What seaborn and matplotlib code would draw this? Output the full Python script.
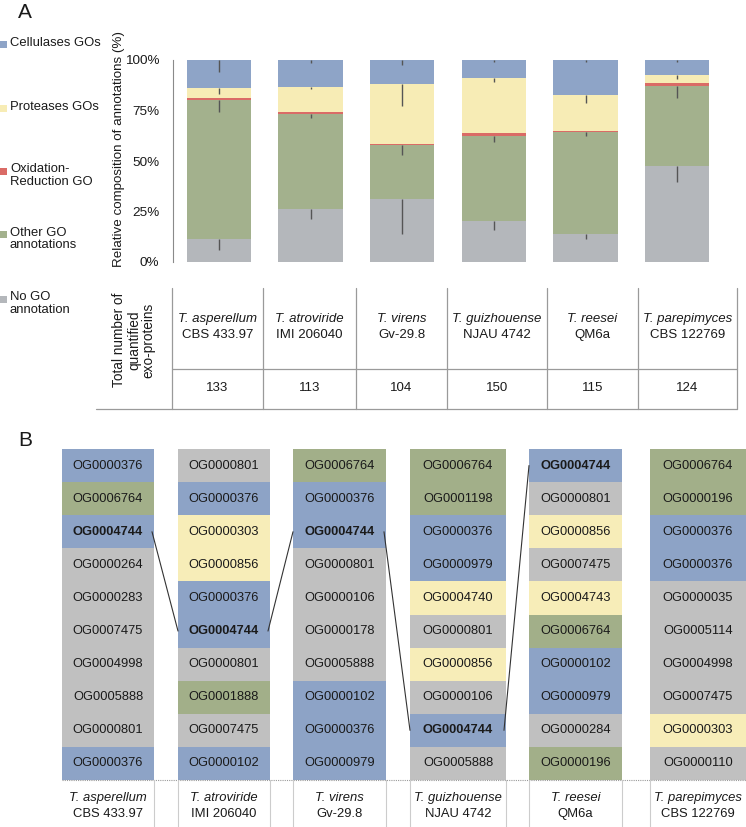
import numpy as np
import pandas as pd
import matplotlib
matplotlib.use("Agg")
import matplotlib.pyplot as plt
from matplotlib.colors import ListedColormap
from matplotlib.patches import Rectangle
import seaborn as sns

sns.set_style("white")
plt.rcParams['font.family'] = ['Liberation Sans', 'DejaVu Sans']

# ---------------- data ----------------
species = ["T. asperellum", "T. atroviride", "T. virens", "T. guizhouense", "T. reesei", "T. parepimyces"]
strains = ["CBS 433.97", "IMI 206040", "Gv-29.8", "NJAU 4742", "QM6a", "CBS 122769"]
totals = [133, 113, 104, 150, 115, 124]

no_go = [11.4, 26.1, 31.0, 20.5, 13.9, 47.5]
other_go = [68.8, 47.0, 26.9, 41.9, 50.5, 39.6]
oxred = [1.1, 1.0, 0.3, 1.6, 0.3, 1.4]
proteases = [4.8, 12.7, 29.8, 26.9, 18.1, 4.1]
cellulases = [13.9, 13.2, 12.0, 9.1, 17.2, 7.4]

err_no_go = [5.5, 5.0, 17.0, 4.6, 2.5, 7.7]
err_other = [6.0, 2.0, 5.0, 3.0, 2.0, 6.0]
err_prot = [3.0, 1.3, 10.7, 2.0, 4.0, 2.0]
err_cell = [5.9, 1.5, 2.5, 1.0, 1.2, 1.0]

legend_labels = ["Cellulases GOs", "Proteases GOs", "Oxidation-\nReduction GO", "Other GO\nannotations", "No GO\nannotation"]

og_labels = [
    ["OG0000376", "OG0006764", "OG0004744", "OG0000264", "OG0000283", "OG0007475", "OG0004998", "OG0005888", "OG0000801", "OG0000376"],
    ["OG0000801", "OG0000376", "OG0000303", "OG0000856", "OG0000376", "OG0004744", "OG0000801", "OG0001888", "OG0007475", "OG0000102"],
    ["OG0006764", "OG0000376", "OG0004744", "OG0000801", "OG0000106", "OG0000178", "OG0005888", "OG0000102", "OG0000376", "OG0000979"],
    ["OG0006764", "OG0001198", "OG0000376", "OG0000979", "OG0004740", "OG0000801", "OG0000856", "OG0000106", "OG0004744", "OG0005888"],
    ["OG0004744", "OG0000801", "OG0000856", "OG0007475", "OG0004743", "OG0006764", "OG0000102", "OG0000979", "OG0000284", "OG0000196"],
    ["OG0006764", "OG0000196", "OG0000376", "OG0000376", "OG0000035", "OG0005114", "OG0004998", "OG0007475", "OG0000303", "OG0000110"],
]
# C = cellulases, N = no GO, P = proteases, O = other GO
og_cats = [
    ["C", "O", "C", "N", "N", "N", "N", "N", "N", "C"],
    ["N", "C", "P", "P", "C", "C", "N", "O", "N", "C"],
    ["O", "C", "C", "N", "N", "N", "N", "C", "C", "C"],
    ["O", "O", "C", "C", "P", "N", "P", "N", "C", "N"],
    ["C", "N", "P", "N", "P", "O", "C", "C", "N", "O"],
    ["O", "O", "C", "C", "N", "N", "N", "N", "P", "N"],
]
highlight = "OG0004744"

# ---------------- style ----------------
W, H = 746, 827
c_blue, c_yel, c_red, c_grn, c_gry = "#8EA4C7", "#F7ECB5", "#DA6B66", "#A3B18D", "#B4B7BB"
b_blue, b_gry, b_yel, b_grn = "#8DA3C6", "#C0C0C0", "#F7EDB8", "#A2AF89"
txt = "#1a1a1a"

fig = plt.figure(figsize=(W / 100, H / 100), dpi=100)

def box(l, t, r, b):
    return [l / W, 1 - b / H, (r - l) / W, (b - t) / H]

# ---------------- panel A bars ----------------
ax = fig.add_axes(box(173, 60, 723, 262))
df = pd.DataFrame({"species": species, "no_go": no_go, "other": other_go, "oxred": oxred,
                   "prot": proteases, "cell": cellulases})
df["c_nogo"] = df["no_go"]
df["c_other"] = df["c_nogo"] + df["other"]
df["c_ox"] = df["c_other"] + df["oxred"]
df["c_prot"] = df["c_ox"] + df["prot"]
df["c_cell"] = df["c_prot"] + df["cell"]

for col, color in [("c_cell", c_blue), ("c_prot", c_yel), ("c_ox", c_red),
                   ("c_other", c_grn), ("c_nogo", c_gry)]:
    sns.barplot(data=df, x="species", y=col, color=color, saturation=1, width=0.7,
                errorbar=None, ax=ax, linewidth=0)

xs = np.arange(len(species))
for cum, err in [(df["c_nogo"], err_no_go), (df["c_other"], err_other),
                 (df["c_prot"], err_prot), (df["c_cell"], err_cell)]:
    ax.vlines(xs, cum - np.array(err), cum, color="#555555", lw=1, zorder=5)

ax.set_xlim(-0.5, 5.5)
ax.set_ylim(0, 100)
ax.set_yticks([0, 25, 50, 75, 100])
ax.set_yticklabels(["0%", "25%", "50%", "75%", "100%"], fontsize=9.7, color=txt)
ax.set_xticks([])
ax.set_xlabel("")
ax.set_ylabel("Relative composition of annotations (%)", fontsize=9.6, color=txt)
ax.yaxis.set_label_coords(-0.088, 0.56)
for s in ["top", "right", "bottom"]:
    ax.spines[s].set_visible(False)
ax.spines["left"].set_color("#8a8a8a")
ax.tick_params(axis="y", direction="out", length=4, width=0.8, color="#8a8a8a", pad=6)
ax.patch.set_alpha(0)

# ---------------- overlay ----------------
ov = fig.add_axes([0, 0, 1, 1], zorder=10)
ov.set_xlim(0, W)
ov.set_ylim(H, 0)
ov.axis("off")

ov.text(18, 12, "A", fontsize=15, color=txt, va="center", ha="left")
ov.text(18, 440, "B", fontsize=15, color=txt, va="center", ha="left")

# legend
leg_colors = [c_blue, c_yel, c_red, c_grn, c_gry]
leg_y = [44, 108, 171, 234, 299]
for lab, col, y in zip(legend_labels, leg_colors, leg_y):
    ov.add_patch(Rectangle((0, y - 3.5), 7, 7, color=col, lw=0))
    ov.text(10, y - 7.5, lab, fontsize=9.4, color=txt, va="top", ha="left", linespacing=1.1)

# table
tx = [172, 263, 356, 447, 547, 638, 737]
t_top, t_mid, t_bot = 288, 369, 409
lc = "#9a9a9a"
for x in tx:
    ov.plot([x, x], [t_top, t_bot], color=lc, lw=0.9)
ov.plot([tx[0], tx[-1]], [t_mid, t_mid], color=lc, lw=0.9)
ov.plot([96, tx[-1]], [t_bot, t_bot], color=lc, lw=0.9)
for i in range(len(species)):
    cx = (tx[i] + tx[i + 1]) / 2
    ov.text(cx, 319, species[i], fontsize=9.5, style="italic", color=txt, ha="center", va="center")
    ov.text(cx, 335, strains[i], fontsize=9.5, color=txt, ha="center", va="center")
    ov.text(cx, 388, str(totals[i]), fontsize=9.5, color=txt, ha="center", va="center")
ov.text(134, 340, "Total number of\nquantified\nexo-proteins", rotation=90, fontsize=9.8,
        color=txt, ha="center", va="center", multialignment="center", linespacing=1.05)

# ---------------- panel B heatmaps ----------------
col_left = [62, 178, 293, 410, 529, 650]
col_w = [92, 92, 93, 96, 93, 96]
b_top, b_bot = 449, 780
cat_code = {"C": 0, "N": 1, "P": 2, "O": 3}
cmap = ListedColormap([b_blue, b_gry, b_yel, b_grn])
n_rows = len(og_labels[0])
row_h = (b_bot - b_top) / n_rows

for j in range(len(og_labels)):
    axh = fig.add_axes(box(col_left[j], b_top, col_left[j] + col_w[j], b_bot))
    mat = np.array([[cat_code[c]] for c in og_cats[j]])
    ann = np.array([[l] for l in og_labels[j]])
    sns.heatmap(mat, ax=axh, cmap=cmap, vmin=-0.5, vmax=3.5, cbar=False, annot=ann, fmt="",
                annot_kws={"fontsize": 9.3, "color": txt}, xticklabels=False, yticklabels=False,
                linewidths=0)
    for t in axh.texts:
        t.set_color(txt)
        if t.get_text() == highlight:
            t.set_fontweight("bold")

# connecting lines between highlighted rows
hl_rows = [labs.index(highlight) for labs in og_labels[:5]]
for j in range(len(hl_rows) - 1):
    y1 = b_top + (hl_rows[j] + 0.5) * row_h
    y2 = b_top + (hl_rows[j + 1] + 0.5) * row_h
    x1 = col_left[j] + col_w[j] - 2
    x2 = col_left[j + 1]
    ov.plot([x1, x2], [y1, y2], color="#333333", lw=0.8)

# bottom labels
ov.plot([col_left[0], W], [b_bot, b_bot], color="#999999", lw=0.8, ls=(0, (1, 1)))
for j in range(len(species)):
    if j > 0:
        ov.plot([col_left[j], col_left[j]], [b_bot, H], color="#cccccc", lw=0.8)
    if j < len(species) - 1:
        r = col_left[j] + col_w[j]
        ov.plot([r, r], [b_bot, H], color="#cccccc", lw=0.8)
    cx = col_left[j] + col_w[j] / 2
    ov.text(cx, 798, species[j], fontsize=9.4, style="italic", color=txt, ha="center", va="center")
    ov.text(cx, 814, strains[j], fontsize=9.4, color=txt, ha="center", va="center")

fig.savefig("out.png", dpi=100)
